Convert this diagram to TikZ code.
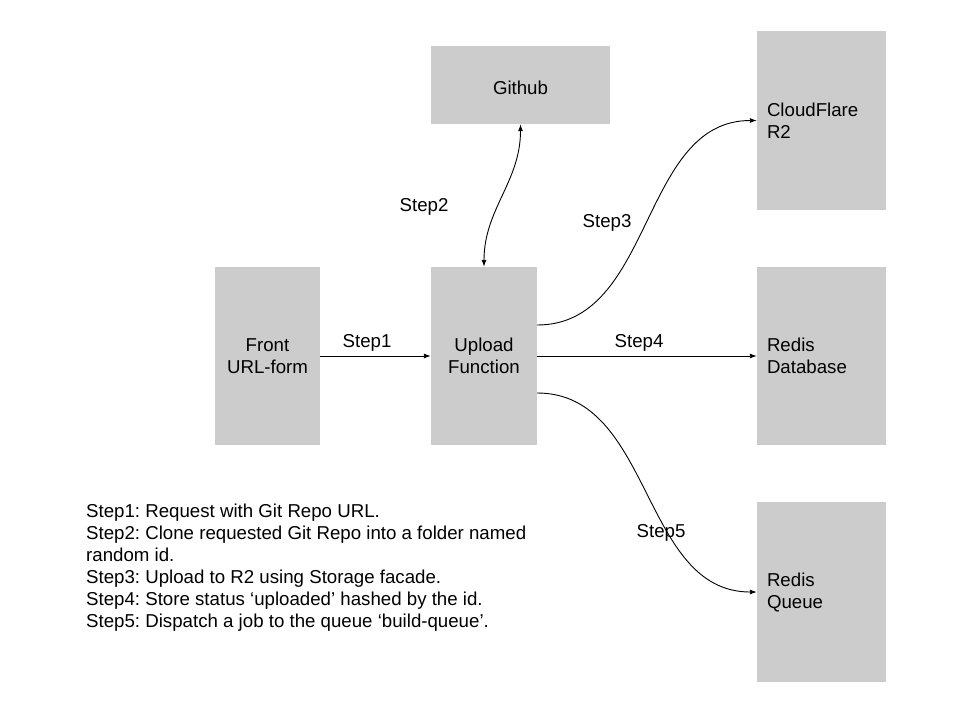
\documentclass[tikz,border=0pt]{standalone}
\usepackage{fontspec}
\setmainfont{Liberation Sans}
\usetikzlibrary{arrows.meta}

\tikzset{
  box/.style={fill=boxgray, inner sep=0pt, font=\fontsize{18.67}{22}\selectfont},
  stepnote/.style={inner sep=0pt, font=\fontsize{18.67}{22}\selectfont\frenchspacing},
  link/.style={line width=0.9pt, -{Latex[length=7pt,width=5pt]}},
}
\definecolor{boxgray}{HTML}{CCCCCC}

\begin{document}
\begin{tikzpicture}[x=1pt,y=-1pt]

\useasboundingbox (0,0) rectangle (960,720);

% boxes
\node[box, minimum width=179pt, minimum height=78pt, text height=19.5pt, align=center] (github) at (520.5,85) {Github};
\node[box, text width=109pt, minimum height=179pt, inner xsep=10pt, align=left] (cloud) at (821.5,120.5) {CloudFlare\\R2};
\node[box, minimum width=105pt, minimum height=178pt, align=center] (front) at (267.5,356) {Front\\URL-form};
\node[box, minimum width=106pt, minimum height=178pt, align=center] (upload) at (484,356) {Upload\\Function};
\node[box, text width=109pt, minimum height=178pt, inner xsep=10pt, align=left] (redisdb) at (821.5,356) {Redis\\Database};
\node[box, text width=109pt, minimum height=180pt, inner xsep=10pt, align=left] (redisq) at (821.5,592) {Redis\\Queue};

% connectors
\draw[link] (front.east) -- (upload.west);
\draw[link, {Latex[length=7pt,width=5pt]}-{Latex[length=7pt,width=5pt]}] (upload.north) to[out=90,in=-90] (github.south);
\draw[link] ([yshift=31pt]upload.east) to[out=0,in=180] (cloud.west);
\draw[link] (upload.east) -- (redisdb.west);
\draw[link] ([yshift=-37pt]upload.east) to[out=0,in=180] (redisq.west);

% step labels
\node[stepnote, anchor=base] (s1) at (367,347) {Step1};
\node[stepnote, anchor=base] (s2) at (424,211) {Step2};
\node[stepnote, anchor=base] (s3) at (607,227) {Step3};
\node[stepnote, anchor=base] (s4) at (639,347) {Step4};
\node[stepnote, anchor=base] (s5) at (661,537) {Step5};

% legend
\node[stepnote, anchor=north west, align=left] (legend) at (86,503.5) {Step1: Request with Git Repo URL.\\
Step2: Clone requested Git Repo into a folder named\\
random id.\\
Step3: Upload to R2 using Storage facade.\\
Step4: Store status ‘uploaded’ hashed by the id.\\
Step5: Dispatch a job to the queue ‘build-queue’.};

\end{tikzpicture}
\end{document}
